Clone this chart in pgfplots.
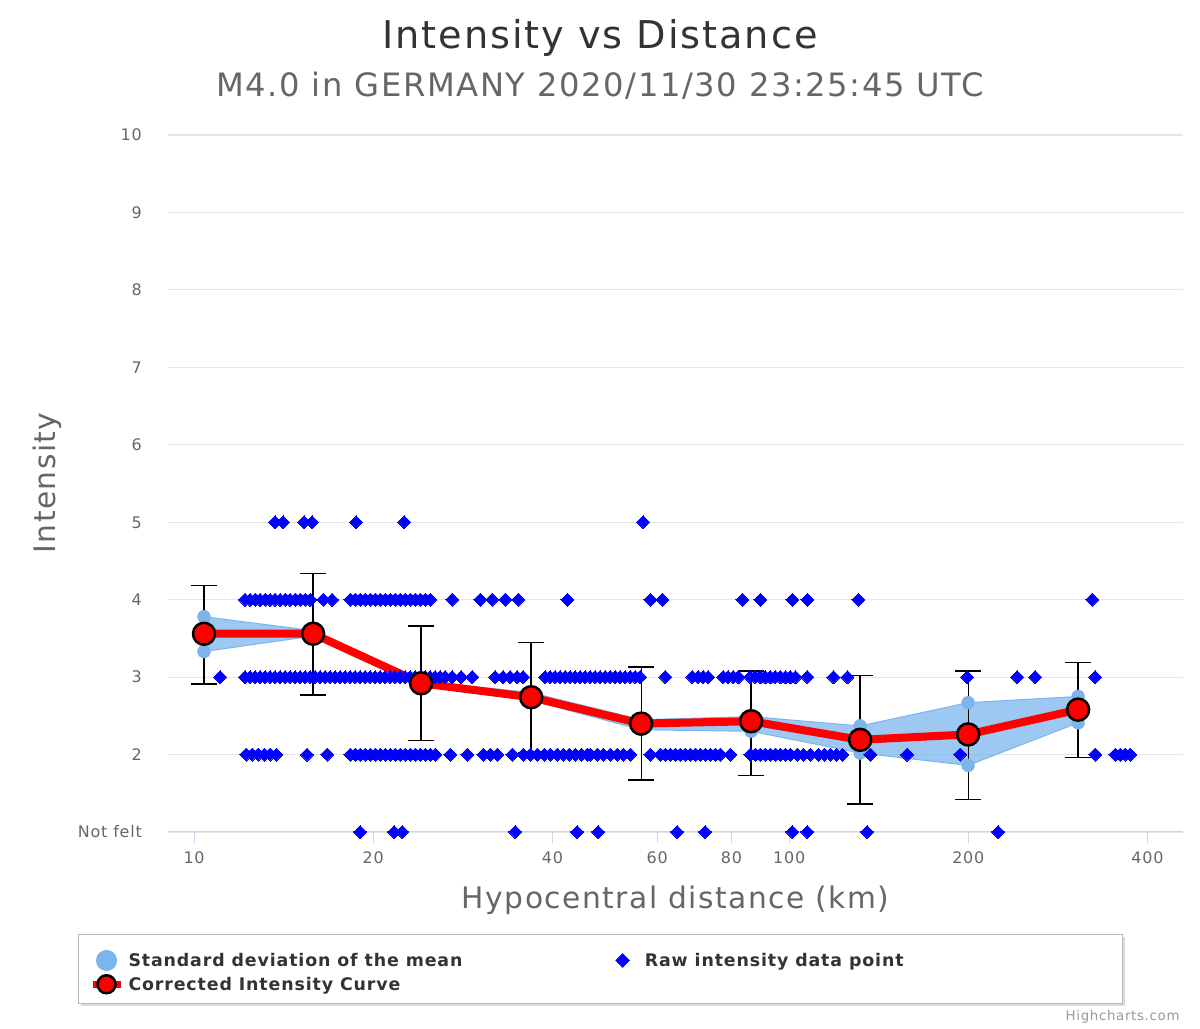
\documentclass[border=0pt]{standalone}
\usepackage{fontspec}
\setmainfont{DejaVu Sans}[LetterSpace=5]
\usepackage{pgfplots}
\pgfplotsset{compat=1.18}
\definecolor{cband}{HTML}{7CB5EC}
\definecolor{ctitle}{HTML}{333333}
\definecolor{csub}{HTML}{666666}
\definecolor{caxis}{HTML}{CCD6EB}
\definecolor{cgrid}{HTML}{E6E6E6}
\definecolor{craw}{HTML}{0000FF}
\definecolor{ccurve}{HTML}{FF0000}
\definecolor{ccredit}{HTML}{999999}
\begin{document}
\begin{tikzpicture}[x=1bp,y=1bp]
\useasboundingbox (0,0) rectangle (1200,1029);
% legend frame with shadow
\fill[black!14] (80.5,23) rectangle (1124.5,91.5);
\filldraw[fill=white, draw=black!28, line width=1bp] (78,25.5) rectangle (1122,94);
% titles
\node[anchor=base, font=\fontsize{38.4}{41}\selectfont, text=ctitle] at (600,980) {Intensity vs Distance};
\node[anchor=base, font=\fontsize{32.3}{35}\selectfont, text=csub] at (600,932) {M4.0 in GERMANY 2020/11/30 23:25:45 UTC};
\node[anchor=base, rotate=90, font=\fontsize{29.8}{32}\selectfont, text=csub] at (55,546) {Intensity};
\node[anchor=base, font=\fontsize{29.8}{32}\selectfont, text=csub] at (675.5,120) {Hypocentral distance (km)};
\node[anchor=base east, font=\fontsize{13.4}{15}\selectfont, text=ccredit] at (1183,8) {Highcharts.com};
\begin{axis}[
  at={(168bp,197bp)}, anchor=south west,
  scale only axis, width=1015bp, height=697bp,
  xmode=log, log basis x=10,
  xmin=9.04, xmax=459, ymin=1, ymax=10,
  clip=false,
  axis x line*=bottom, axis y line*=left,
  x axis line style={draw=caxis, line width=1bp, -},
  y axis line style={draw=none, -},
  xtick={10,20,40,60,80,100,200,400},
  xticklabels={10,20,40,60,80,100,200,400},
  minor xtick={},
  ytick={1,2,3,4,5,6,7,8,9,10},
  yticklabels={Not felt,2,3,4,5,6,7,8,9,10},
  ymajorgrids, grid style={draw=cgrid, line width=1.2bp},
  xtick align=outside,
  major tick length=11bp,
  xtick style={draw=caxis, line width=1bp},
  ytick style={draw=none},
  tick label style={font=\fontsize{16}{16}\selectfont, text=csub, inner sep=0pt},
  xticklabel style={anchor=base, yshift=-21bp},
  yticklabel style={anchor=base east, xshift=-26bp, yshift=-5.8bp},
  legend columns=2,
  legend cell align=left,
  legend style={at={(axis description cs:-0.0778,-0.1693)}, anchor=north west,
    draw=none, fill=none, inner sep=0pt, outer sep=0pt, row sep=3bp,
    font=\fontsize{17.45}{20}\bfseries\selectfont, text=ctitle,
    /tikz/every even column/.append style={column sep=151bp},
    /tikz/column 1/.style={column sep=2.5bp},
    /tikz/column 3/.style={column sep=13bp}},
]
% standard deviation band
\addplot[fill=cband, fill opacity=0.75, draw=cband, line width=1bp,
  legend image code/.code={\fill[cband, fill opacity=1, draw opacity=1] (0bp,0bp) circle (10bp);}]
  coordinates {(10.39,3.78) (15.85,3.60) (24.07,2.95) (36.85,2.80) (56.40,2.45) (86.30,2.49) (131.6,2.37) (199.9,2.67) (305.9,2.75)
               (305.9,2.41) (199.9,1.86) (131.6,2.02) (86.30,2.30) (56.40,2.32) (36.85,2.70) (24.07,2.89) (15.85,3.53) (10.39,3.33)} -- cycle;
\addlegendentry{Standard deviation of the mean}
\addplot[forget plot, only marks, mark=*, mark size=6.5bp, mark options={fill=cband, draw=cband}]
  coordinates {(10.39,3.78) (15.85,3.60) (24.07,2.95) (36.85,2.80) (56.40,2.45) (86.30,2.49) (131.6,2.37) (199.9,2.67) (305.9,2.75)
               (305.9,2.41) (199.9,1.86) (131.6,2.02) (86.30,2.30) (56.40,2.32) (36.85,2.70) (24.07,2.89) (15.85,3.53) (10.39,3.33)};
% raw intensity points
\addplot[only marks, mark=square*, mark size=4.6bp, mark options={rotate=45, fill=craw, draw=craw, line width=0pt},
  legend image code/.code={\fill[craw] (0bp,7bp) -- (7bp,0bp) -- (0bp,-7bp) -- (-7bp,0bp) -- cycle;}]
  coordinates {
  (13.68,5) (14.11,5) (15.31,5) (15.79,5) (18.72,5) (22.55,5) (56.86,5)
  (12.18,4) (12.42,4) (12.67,4) (12.91,4) (13.17,4) (13.42,4) (13.68,4) (13.95,4) (14.23,4) (14.50,4) (14.79,4) (15.08,4) (15.37,4) (15.67,4)
  (16.48,4) (17.06,4)
  (18.30,4) (18.66,4) (19.02,4) (19.39,4) (19.77,4) (20.16,4) (20.55,4) (20.95,4) (21.36,4) (21.78,4) (22.21,4) (22.64,4) (23.08,4) (23.53,4) (23.99,4) (24.46,4) (24.94,4)
  (27.16,4) (30.27,4) (31.70,4) (33.34,4) (35.06,4) (42.39,4) (58.44,4) (61.22,4) (83.43,4) (89.46,4) (101.25,4) (107.3,4) (130.7,4) (323.0,4)
  (11.06,3)
  (12.18,3) (12.42,3) (12.67,3) (12.91,3) (13.17,3) (13.42,3) (13.68,3) (13.95,3) (14.23,3) (14.50,3) (14.79,3) (15.08,3) (15.37,3) (15.67,3) (15.98,3)
  (16.29,3) (16.61,3) (16.93,3) (17.27,3) (17.60,3) (17.95,3) (18.30,3) (18.66,3) (19.02,3) (19.39,3) (19.77,3) (20.16,3) (20.55,3) (20.95,3) (21.36,3)
  (21.78,3) (22.21,3) (22.64,3) (23.08,3) (23.53,3) (23.99,3) (24.46,3) (24.94,3) (25.43,3) (25.93,3) (26.43,3)
  (27.16,3) (28.12,3) (29.35,3) (32.08,3) (33.08,3) (33.99,3) (34.93,3) (35.74,3)
  (38.92,3) (39.68,3) (40.46,3) (41.25,3) (42.06,3) (42.88,3) (43.71,3) (44.57,3) (45.44,3) (46.33,3) (47.23,3) (48.16,3) (49.10,3) (50.06,3) (51.04,3)
  (52.03,3) (53.05,3) (54.09,3) (55.15,3) (56.22,3)
  (61.94,3) (68.76,3) (70.37,3) (71.75,3) (73.15,3) (77.52,3) (79.03,3) (80.58,3) (82.16,3)
  (86.06,3) (87.74,3) (89.46,3) (91.21,3) (92.99,3) (94.80,3) (96.66,3) (98.55,3) (100.47,3) (102.44,3)
  (107.3,3) (118.7,3) (125.3,3) (199.2,3) (241.7,3) (259.1,3) (326.8,3)
  (12.23,2) (12.52,2) (12.81,2) (13.12,2) (13.42,2) (13.74,2) (15.48,2) (16.73,2)
  (18.30,2) (18.66,2) (19.02,2) (19.39,2) (19.77,2) (20.16,2) (20.55,2) (20.95,2) (21.36,2) (21.78,2) (22.21,2) (22.64,2) (23.08,2) (23.53,2) (23.99,2)
  (24.46,2) (24.94,2) (25.43,2)
  (26.95,2) (28.79,2) (30.62,2) (31.46,2) (32.33,2) (34.26,2) (35.74,2) (36.73,2) (37.74,2) (38.77,2) (39.68,2) (40.77,2) (41.73,2) (42.71,2) (43.71,2)
  (44.74,2) (45.79,2) (46.33,2) (47.60,2) (48.72,2) (50.06,2) (51.43,2) (52.64,2) (54.09,2) (58.44,2)
  (60.75,2) (61.94,2) (63.15,2) (64.38,2) (65.64,2) (66.92,2) (68.23,2) (69.56,2) (70.92,2) (72.31,2) (73.72,2) (75.16,2) (76.63,2)
  (79.65,2) (86.06,2) (87.74,2) (89.46,2) (91.21,2) (92.99,2) (94.80,2) (96.66,2) (98.55,2) (100.47,2) (103.2,2) (105.7,2) (108.56,2)
  (112.0,2) (114.6,2) (117.3,2) (120.1,2) (122.9,2) (136.94,2) (157.8,2) (193.8,2) (326.8,2) (353.1,2) (360.0,2) (367.0,2) (374.2,2)
  (19.02,1) (21.69,1) (22.38,1) (34.66,1) (44.03,1) (47.75,1) (64.83,1) (72.24,1) (101.25,1) (107.3,1) (135.2,1) (224.5,1)
  };
\addlegendentry{Raw intensity data point}
% error bars
\addplot[forget plot, black, only marks, mark=none,
  error bars/.cd, y dir=both, y explicit,
  error bar style={line width=1.3bp, black},
  error mark options={rotate=90, mark size=13bp, line width=1.3bp, black}]
  coordinates {
  (10.39,3.56) += (0,0.62) -= (0,0.65)
  (15.85,3.56) += (0,0.78) -= (0,0.79)
  (24.07,2.92) += (0,0.74) -= (0,0.74)
  (36.85,2.74) += (0,0.71) -= (0,0.72)
  (56.40,2.40) += (0,0.73) -= (0,0.73)
  (86.30,2.43) += (0,0.65) -= (0,0.70)
  (131.6,2.19) += (0,0.83) -= (0,0.83)
  (199.9,2.26) += (0,0.82) -= (0,0.84)
  (305.9,2.58) += (0,0.61) -= (0,0.62)
  };
% corrected intensity curve
\addplot[ccurve, line width=8bp, line join=round, mark=*, mark size=11bp,
  mark options={fill=ccurve, draw=black, line width=2.5bp},
  legend image code/.code={\draw[ccurve, line width=7bp] (-14bp,0bp) -- (14bp,0bp);
     \filldraw[fill=ccurve, draw=black, line width=2.5bp] (0bp,0bp) circle (9bp);}]
  coordinates {(10.39,3.56) (15.85,3.56) (24.07,2.92) (36.85,2.74) (56.40,2.40) (86.30,2.43) (131.6,2.19) (199.9,2.26) (305.9,2.58)};
\addlegendentry{Corrected Intensity Curve}
\end{axis}
\end{tikzpicture}
\end{document}
